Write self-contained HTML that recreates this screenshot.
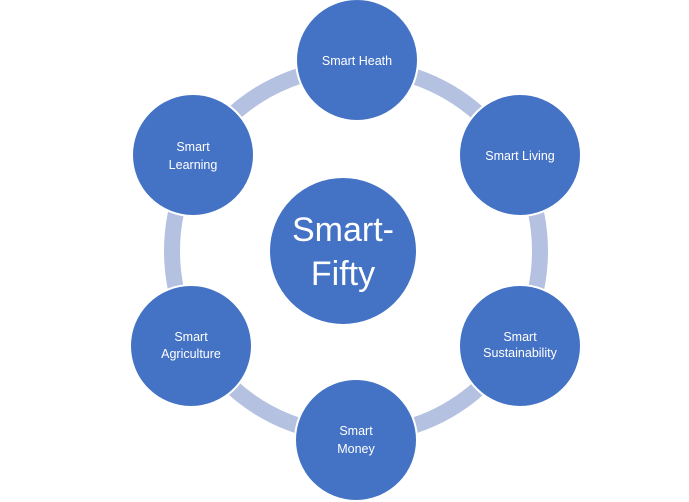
<!DOCTYPE html>
<html><head><style>
html,body{margin:0;padding:0;background:#fff;width:689px;height:502px;overflow:hidden}
svg text{font-family:"Liberation Sans",sans-serif;fill:#fff}
</style></head><body>
<svg width="689" height="502" viewBox="0 0 689 502">
<circle cx="356" cy="251" r="184" fill="none" stroke="#b4c1e1" stroke-width="16"/>
<g fill="#4472c4" stroke="#fff" stroke-width="2">
<circle cx="343" cy="251" r="74"/>
<circle cx="357" cy="60" r="61"/>
<circle cx="520" cy="155" r="61"/>
<circle cx="520" cy="346" r="61"/>
<circle cx="356" cy="440" r="61"/>
<circle cx="191" cy="346" r="61"/>
<circle cx="193" cy="155" r="61"/>
</g>
<g font-size="12.5" text-anchor="middle">
<text x="357" y="65">Smart Heath</text>
<text x="520" y="160">Smart Living</text>
<text x="520" y="341">Smart</text><text x="520" y="357">Sustainability</text>
<text x="356" y="435">Smart</text><text x="356" y="453">Money</text>
<text x="191" y="341">Smart</text><text x="191" y="358">Agriculture</text>
<text x="193" y="151">Smart</text><text x="193" y="169">Learning</text>
<text x="343" y="241" font-size="34">Smart-</text>
<text x="343" y="285" font-size="34">Fifty</text>
</g>
</svg>
</body></html>
